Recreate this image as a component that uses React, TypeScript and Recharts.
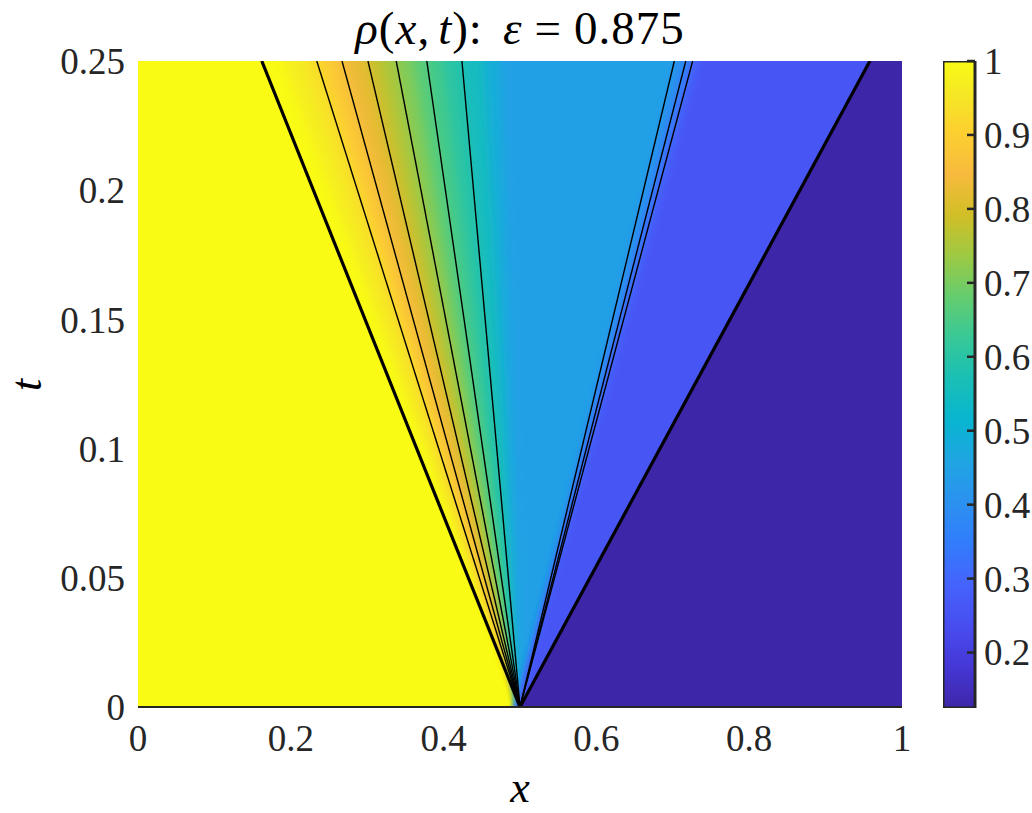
import React from 'react';
import { ComposedChart, Area, Line, XAxis, YAxis, BarChart, Bar } from 'recharts';

const FONT = '"Liberation Serif", "DejaVu Serif", serif';
const INK = '#262626';

// axes
const xTicks = [0, 0.2, 0.4, 0.6, 0.8, 1];
const tTicks = [0, 0.05, 0.1, 0.15, 0.2, 0.25];
const rhoTicks = [0.2, 0.3, 0.4, 0.5, 0.6, 0.7, 0.8, 0.9, 1];
const rhoRange = [0.125, 1];

const xApex = 0.5;
const tTop = 0.25;

// states on either side
const rhoLeft = 1;
const rhoRight = 0.125;

// density read along the top edge (t = 0.25): value that starts at each x
const sampleX = [0.186, 0.199, 0.216, 0.234, 0.251, 0.267, 0.281, 0.301, 0.319, 0.338, 0.359, 0.378, 0.399, 0.424, 0.452, 0.474, 0.702, 0.709, 0.717, 0.723, 0.726, 0.732, 0.738];
const sampleRho = [0.98, 0.965, 0.945, 0.905, 0.875, 0.84, 0.82, 0.78, 0.75, 0.71, 0.67, 0.64, 0.6, 0.55, 0.49, 0.445, 0.42, 0.39, 0.36, 0.33, 0.3, 0.27, 0.255];

// shock, where it leaves the top edge
const shockX = 0.958;

// characteristics from (0.5, 0), x where they hit t = 0.25
const thickChars = [0.162, 0.958];
const thinChars = [0.234, 0.267, 0.301, 0.338, 0.378, 0.424, 0.702, 0.717, 0.726];

// parula colormap
const parulaColors = ['#3e26a8', '#4537d5', '#484df0', '#4563fd', '#327cfc', '#2b91ef', '#20a5e3', '#08b5d0', '#19bfb6', '#37c897', '#64cd6f', '#9dc943', '#d1bf27', '#f8ba3d', '#fccf30', '#f5e924', '#f9fb15'];
const parulaPos = [0, 4, 8, 12, 16, 20, 24, 28, 32, 36, 40, 44, 48, 52, 56, 60, 63].map(i => i / 63);

function hexRgb(h: string) {
  return [1, 3, 5].map(i => parseInt(h.slice(i, i + 2), 16));
}

function parula(rho: number) {
  let p = (rho - rhoRange[0]) / (rhoRange[1] - rhoRange[0]);
  p = Math.min(1, Math.max(0, p));
  let k = 0;
  while (k < parulaPos.length - 2 && p > parulaPos[k + 1]) k++;
  const f = (p - parulaPos[k]) / (parulaPos[k + 1] - parulaPos[k]);
  const a = hexRgb(parulaColors[k]);
  const b = hexRgb(parulaColors[k + 1]);
  const c = a.map((v, i) => Math.round(v + (b[i] - v) * f));
  return `rgb(${c[0]},${c[1]},${c[2]})`;
}

// everything right of the ray from (0.5, 0) to (xTop, 0.25)
function rightOf(xTop: number) {
  if (xTop < xApex) {
    return [
      { x: xTop, band: [tTop, tTop] },
      { x: xApex, band: [0, tTop] },
      { x: 1, band: [0, tTop] },
    ];
  }
  return [
    { x: xApex, band: [0, 0] },
    { x: xTop, band: [0, tTop] },
    { x: 1, band: [0, tTop] },
  ];
}

const fullField = [
  { x: 0, band: [0, tTop] },
  { x: 1, band: [0, tTop] },
];

const ray = (xTop: number) => [
  { x: xApex, t: 0 },
  { x: xTop, t: tTop },
];

const ColorbarTick = (props: any) => {
  const { x, y, payload } = props;
  return (
    <g>
      <line x1={x - 17} x2={x - 9} y1={y} y2={y} stroke={INK} strokeWidth={2.5} />
      <text x={x} y={y} dy="0.35em" textAnchor="start" fontSize={37} fill={INK} fontFamily={FONT}>
        {String(payload.value)}
      </text>
    </g>
  );
};

export default function App() {
  const tickStyle = { fontSize: 37, fill: INK, fontFamily: FONT };

  return (
    <div style={{ position: 'relative', width: 1032, height: 813, background: '#fff', fontFamily: FONT }}>
      <style>{'body{margin:0}'}</style>
      <svg width={0} height={0} style={{ position: 'absolute' }}>
        <defs>
          <filter id="fanBlur" x="-0.1" y="0" width="1.1" height="1">
            <feGaussianBlur stdDeviation="5 0" />
          </filter>
          <linearGradient id="parulaBar" x1="0" y1="1" x2="0" y2="0">
            {parulaColors.map((c, i) => (
              <stop key={i} offset={parulaPos[i]} stopColor={c} />
            ))}
          </linearGradient>
        </defs>
      </svg>

      <div style={{ position: 'absolute', left: 0, top: 0 }}>
        <ComposedChart width={1032} height={813} margin={{ top: 61, right: 130, bottom: 46, left: 78 }}>
          <XAxis
            type="number"
            dataKey="x"
            domain={[0, 1]}
            ticks={xTicks}
            interval={0}
            allowDataOverflow
            tickLine={false}
            tickSize={0}
            tickMargin={18}
            height={60}
            axisLine={{ stroke: INK, strokeWidth: 2 }}
            tick={tickStyle}
          />
          <YAxis
            type="number"
            domain={[0, tTop]}
            ticks={tTicks}
            interval={0}
            allowDataOverflow
            axisLine={false}
            tickLine={false}
            tickSize={0}
            tickMargin={13}
            width={60}
            tick={tickStyle}
          />
          <Area
            data={fullField}
            type="linear"
            dataKey="band"
            stroke="none"
            fill={parula(rhoLeft)}
            fillOpacity={1}
            dot={false}
            activeDot={false}
            isAnimationActive={false}
          />
          {sampleX.map((xs, i) => (
            <Area
              key={`fan-${i}`}
              data={rightOf(xs)}
              type="linear"
              dataKey="band"
              stroke="none"
              fill={parula(sampleRho[i])}
              fillOpacity={1}
              filter="url(#fanBlur)"
              dot={false}
              activeDot={false}
              isAnimationActive={false}
            />
          ))}
          <Area
            data={rightOf(shockX)}
            type="linear"
            dataKey="band"
            stroke="none"
            fill={parula(rhoRight)}
            fillOpacity={1}
            dot={false}
            activeDot={false}
            isAnimationActive={false}
          />
          {thinChars.map((xc, i) => (
            <Line
              key={`thin-${i}`}
              data={ray(xc)}
              dataKey="t"
              stroke="#000"
              strokeWidth={1.4}
              dot={false}
              activeDot={false}
              isAnimationActive={false}
            />
          ))}
          {thickChars.map((xc, i) => (
            <Line
              key={`thick-${i}`}
              data={ray(xc)}
              dataKey="t"
              stroke="#000"
              strokeWidth={3.2}
              dot={false}
              activeDot={false}
              isAnimationActive={false}
            />
          ))}
        </ComposedChart>
      </div>

      <div style={{ position: 'absolute', left: 943, top: 0 }}>
        <BarChart
          width={89}
          height={813}
          data={[{ name: 'cb', range: rhoRange }]}
          margin={{ top: 61, right: 0, bottom: 105, left: 0 }}
          barCategoryGap={0}
        >
          <XAxis dataKey="name" hide />
          <YAxis
            orientation="right"
            type="number"
            domain={rhoRange}
            ticks={rhoTicks}
            interval={0}
            allowDataOverflow
            axisLine={false}
            tickLine={false}
            tickSize={0}
            tickMargin={9}
            width={57}
            tick={(p: any) => <ColorbarTick {...p} />}
          />
          <Bar dataKey="range" fill="url(#parulaBar)" stroke={INK} strokeWidth={3} isAnimationActive={false} />
        </BarChart>
      </div>

      <svg width={1032} height={813} style={{ position: 'absolute', left: 0, top: 0, pointerEvents: 'none' }}>
        <text x={520} y={44} textAnchor="middle" fontSize={47} fontFamily={FONT} fill="#000" letterSpacing={1}>
          <tspan fontStyle="italic">ρ</tspan>
          <tspan>(</tspan>
          <tspan fontStyle="italic">x</tspan>
          <tspan>,</tspan>
          <tspan dx={8} fontStyle="italic">t</tspan>
          <tspan>):</tspan>
          <tspan dx={20} fontStyle="italic">ε</tspan>
          <tspan dx={12}>=</tspan>
          <tspan dx={12}>0.875</tspan>
        </text>
        <text x={520} y={802} textAnchor="middle" fontSize={44} fontFamily={FONT} fontStyle="italic" fill="#000">
          x
        </text>
        <text transform="translate(41,385) rotate(-90)" textAnchor="middle" fontSize={44} fontFamily={FONT} fontStyle="italic" fill="#000">
          t
        </text>
      </svg>
    </div>
  );
}
